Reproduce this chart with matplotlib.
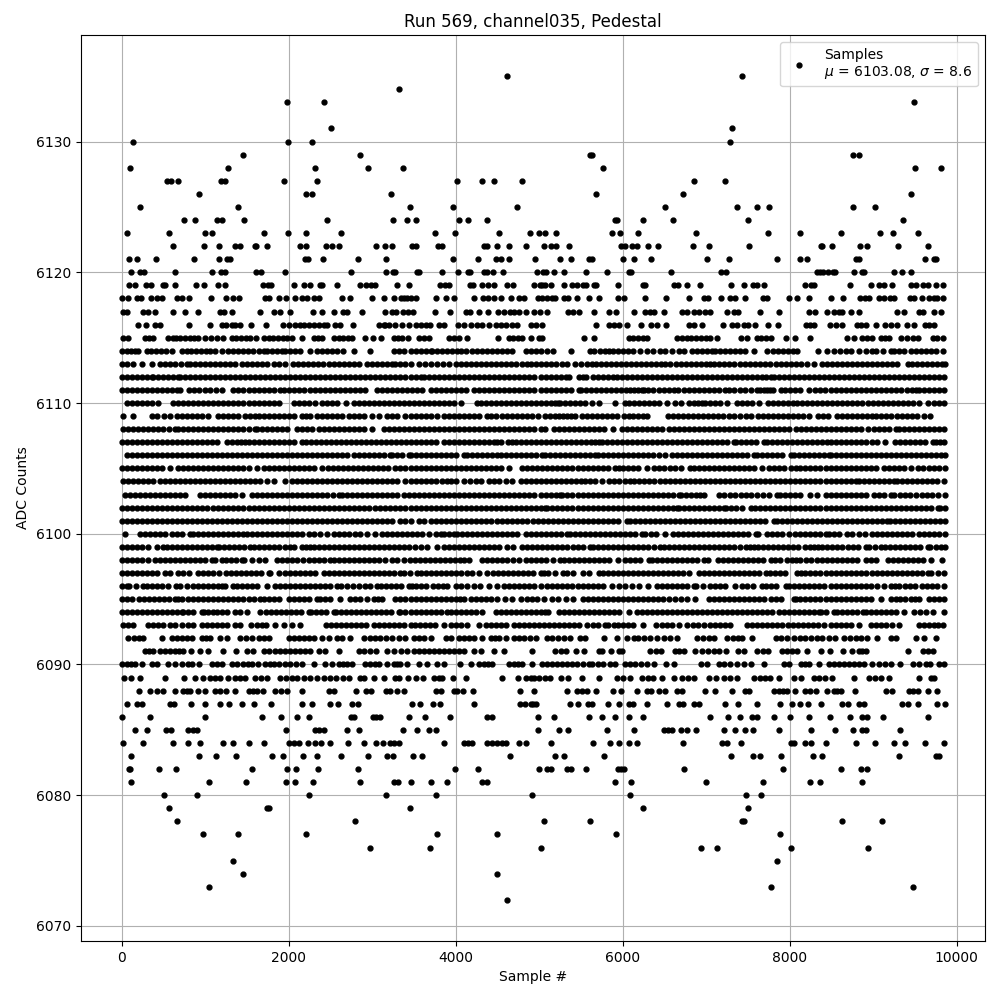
import matplotlib
matplotlib.use("Agg")
import matplotlib.pyplot as plt

# sample numbers, one list per ADC level
row_6135 = [4616, 7428]
row_6134 = [3320]
row_6133 = [1976, 2420, 9492]
row_6131 = [2504, 7308]
row_6130 = [140, 1988, 2276, 7284]
row_6129 = [1460, 2852, 5604, 5628, 8760, 8832]
row_6128 = [104, 1280, 2312, 2948, 3368, 5760, 9504, 9816]
row_6127 = [548, 596, 680, 1196, 1244, 1940, 2336, 4016, 4316, 4460, 4796, 6852, 7224]
row_6126 = [932, 2204, 2276, 3224, 5676, 6720, 9456]
row_6125 = [224, 1400, 3452, 3968, 4736, 6504, 7368, 7608, 7752, 8760, 9024]
row_6124 = [752, 884, 1148, 1208, 1472, 2456, 3248, 3416, 3524, 4040, 4148, 4376, 5912, 5932, 6240, 6600, 7500, 9360]
row_6123 = [68, 572, 1004, 1088, 1700, 1988, 2204, 2624, 3752, 3992, 4520, 4892, 5004, 5076, 5208, 5868, 5964, 6180, 6876, 7740, 8124, 8616, 9084, 9240, 9540]
row_6122 = [620, 992, 1172, 1364, 1424, 1592, 1604, 1736, 2132, 2204, 2444, 2516, 2600, 3044, 3152, 3236, 3476, 3524, 3788, 3836, 4340, 4380, 4496, 4640, 4844, 5064, 5148, 5208, 5364, 5976, 6024, 6108, 6168, 6300, 6420, 6840, 7032, 7512, 8376, 8392, 8508, 8844, 8928, 9300, 9660]
row_6121 = [92, 188, 416, 872, 1172, 1260, 1300, 2192, 2228, 2408, 2828, 3164, 3968, 4268, 4484, 4544, 4640, 4952, 5256, 5388, 5592, 5628, 6000, 6132, 6336, 7008, 7272, 7848, 8124, 8204, 8792, 8832, 9624, 9732, 9756]
row_6120 = [116, 224, 272, 644, 1088, 1196, 1244, 1604, 1664, 1952, 2744, 3164, 3248, 3272, 3536, 3560, 3836, 4028, 4148, 4172, 4340, 4380, 4448, 4568, 4976, 5052, 5088, 5184, 5304, 5556, 5808, 6072, 6104, 6576, 7176, 7236, 8328, 8364, 8400, 8460, 8520, 8544, 8772, 8868, 8892, 9252, 9352, 9456]
row_6119 = [92, 164, 296, 356, 500, 524, 644, 892, 992, 1160, 1244, 1688, 1748, 1784, 2060, 2180, 2252, 2372, 2396, 2576, 2852, 2924, 2984, 3032, 3296, 3440, 3812, 3872, 3920, 4172, 4208, 4316, 4388, 4460, 4616, 4688, 4940, 5012, 5040, 5076, 5148, 5304, 5400, 5448, 5520, 5556, 5652, 5676, 5940, 6240, 6264, 6612, 6660, 6768, 6924, 7296, 7452, 7560, 7604, 7692, 8184, 8256, 8292, 8724, 8976, 9072, 9132, 9228, 9456, 9516, 9600, 9660, 9756, 9840]
row_6118 = [8, 80, 188, 236, 356, 420, 488, 668, 728, 812, 1076, 1256, 1340, 1412, 1712, 1760, 1880, 1964, 2072, 2156, 2216, 2300, 2360, 2636, 2732, 2996, 3140, 3260, 3348, 3380, 3420, 3460, 3520, 3764, 3884, 3980, 4220, 4328, 4388, 4460, 4544, 4664, 4760, 4820, 4988, 5040, 5100, 5160, 5192, 5304, 5352, 5448, 5592, 5712, 5940, 6012, 6264, 6516, 6792, 6972, 7020, 7176, 7284, 7344, 7464, 7680, 7724, 7992, 8092, 8232, 8496, 8644, 8844, 8900, 8952, 9072, 9130, 9200, 9252, 9444, 9492, 9588, 9672, 9730, 9770, 9840]
row_6117 = [20, 60, 260, 320, 400, 620, 760, 920, 1180, 1228, 1320, 1652, 1820, 1892, 2020, 2288, 2396, 2540, 2648, 2700, 2876, 3152, 3236, 3284, 3368, 3428, 3488, 3752, 3932, 4124, 4172, 4280, 4388, 4508, 4580, 4652, 4700, 4760, 4840, 4940, 5012, 5100, 5352, 5412, 5472, 5652, 5832, 5916, 6132, 6272, 6324, 6372, 6492, 6712, 6772, 6852, 6912, 6992, 7044, 7252, 7332, 7380, 7644, 7872, 8232, 8304, 8448, 8532, 8592, 8628, 8736, 8832, 9292, 9364, 9552, 9592, 9732, 9816]
row_6116 = [200, 292, 400, 460, 804, 1064, 1208, 1252, 1320, 1360, 1420, 1544, 1728, 1928, 2000, 2080, 2140, 2188, 2240, 2300, 2360, 2420, 2460, 2560, 2620, 2768, 3080, 3140, 3160, 3200, 3280, 3360, 3440, 3520, 3580, 3640, 3692, 3800, 3860, 4028, 4100, 4180, 4260, 4320, 4400, 4480, 4540, 4600, 4680, 4740, 4900, 4960, 5032, 5676, 5832, 5892, 5952, 6052, 6216, 6336, 6408, 6516, 6792, 6852, 6948, 7200, 7312, 7372, 7452, 7500, 7584, 7740, 7860, 8196, 8244, 8292, 8484, 8552, 8632, 8808, 8860, 8912, 9032, 9140, 9212, 9292, 9408, 9492, 9624, 9672, 9732]
row_6115 = [20, 80, 280, 330, 380, 560, 610, 655, 700, 760, 815, 870, 920, 1000, 1070, 1140, 1220, 1320, 1375, 1430, 1490, 1540, 1608, 1700, 1760, 1815, 1870, 1930, 1985, 2040, 2160, 2300, 2350, 2400, 2540, 2600, 2650, 2710, 2760, 2912, 3008, 3108, 3260, 3310, 3360, 3428, 3560, 3620, 3680, 3920, 3980, 4040, 4140, 4508, 4640, 4690, 4750, 4800, 4908, 5000, 5032, 5532, 5652, 6072, 6130, 6180, 6240, 6292, 6652, 6710, 6770, 6825, 6880, 6940, 7000, 7052, 7132, 7412, 7492, 7612, 7660, 7712, 7780, 7956, 8064, 8244, 8692, 8772, 8872, 8932, 8992, 9092, 9140, 9192, 9332, 9400, 9472, 9532, 9712, 9770, 9832]
row_6114 = [0, 60, 110, 160, 200, 300, 350, 410, 470, 530, 600, 720, 780, 830, 890, 950, 1010, 1060, 1120, 1200, 1280, 1340, 1400, 1450, 1510, 1570, 1640, 1700, 1740, 1800, 1860, 1920, 1960, 2020, 2080, 2140, 2252, 2340, 2400, 2460, 2520, 2580, 2648, 2780, 2980, 3260, 3320, 3380, 3460, 3520, 3580, 3640, 3700, 3720, 3780, 3840, 3900, 3960, 4020, 4070, 4130, 4200, 4260, 4320, 4380, 4440, 4500, 4560, 4620, 4680, 4840, 4900, 4960, 5020, 5090, 5172, 5380, 5604, 5660, 5730, 5792, 5832, 5890, 5950, 6010, 6070, 6130, 6212, 6292, 6370, 6452, 6512, 6590, 6672, 6732, 6832, 6890, 6950, 7010, 7072, 7112, 7170, 7230, 7290, 7350, 7410, 7470, 7572, 7732, 7800, 7860, 7920, 7980, 8040, 8092, 8340, 8452, 8532, 8600, 8672, 8740, 8832, 8910, 8992, 9032, 9120, 9212, 9252, 9310, 9372, 9452, 9510, 9570, 9630, 9690, 9750, 9832]
row_6113 = [0, 70, 140, 240, 360, 460, 520, 580, 640, 710, 780, 820, 880, 940, 1000, 1060, 1120, 1180, 1240, 1300, 1360, 1440, 1500, 1560, 1620, 1680, 1740, 1820, 1890, 1960, 2052, 2110, 2170, 2230, 2290, 2350, 2410, 2480, 2540, 2600, 2660, 2720, 2780, 2840, 2940, 3000, 3060, 3120, 3180, 3240, 3280, 3340, 3400, 3460, 3560, 3630, 3700, 3780, 3850, 3920, 4000, 4060, 4120, 4180, 4240, 4300, 4360, 4420, 4480, 4540, 4600, 4660, 4720, 4790, 4860, 4900, 4960, 5020, 5080, 5140, 5200, 5270, 5332, 5432, 5500, 5570, 5632, 5680, 5740, 5800, 5860, 5920, 5980, 6040, 6100, 6160, 6220, 6280, 6340, 6400, 6460, 6512, 6564, 6640, 6700, 6760, 6820, 6880, 6940, 7000, 7052, 7100, 7160, 7220, 7280, 7340, 7400, 7460, 7520, 7580, 7640, 7700, 7770, 7832, 7900, 7960, 8020, 8080, 8140, 8210, 8292, 8392, 8450, 8510, 8570, 8630, 8690, 8750, 8810, 8870, 8930, 8990, 9050, 9110, 9170, 9230, 9292, 9412, 9470, 9530, 9590, 9650, 9710, 9770, 9830, 9866]
row_6112 = [0, 60, 120, 180, 240, 300, 360, 380, 440, 500, 560, 620, 680, 700, 760, 820, 880, 940, 1000, 1060, 1120, 1180, 1240, 1300, 1360, 1420, 1480, 1540, 1600, 1660, 1720, 1780, 1840, 1900, 1960, 2020, 2080, 2140, 2200, 2260, 2320, 2380, 2440, 2500, 2560, 2620, 2680, 2740, 2800, 2860, 2920, 2980, 3040, 3100, 3160, 3220, 3280, 3340, 3400, 3460, 3520, 3580, 3620, 3680, 3740, 3800, 3860, 3920, 3980, 4040, 4100, 4160, 4220, 4280, 4340, 4400, 4460, 4520, 4580, 4640, 4700, 4760, 4820, 4880, 4940, 5020, 5080, 5140, 5200, 5260, 5320, 5364, 5472, 5520, 5564, 5644, 5710, 5770, 5830, 5890, 5932, 5992, 6050, 6110, 6170, 6230, 6290, 6350, 6410, 6470, 6530, 6590, 6650, 6710, 6770, 6830, 6890, 6950, 7010, 7070, 7130, 7190, 7250, 7310, 7370, 7430, 7490, 7550, 7610, 7670, 7720, 7772, 7812, 7870, 7930, 7990, 8050, 8110, 8170, 8230, 8290, 8350, 8410, 8470, 8530, 8590, 8650, 8710, 8770, 8830, 8890, 8950, 9010, 9070, 9130, 9190, 9250, 9310, 9370, 9430, 9490, 9550, 9610, 9670, 9730, 9790, 9850]
row_6111 = [0, 60, 120, 180, 240, 300, 360, 420, 480, 540, 600, 660, 700, 810, 870, 930, 1000, 1060, 1130, 1200, 1340, 1400, 1460, 1520, 1580, 1640, 1700, 1760, 1820, 1900, 1940, 2000, 2060, 2120, 2180, 2260, 2320, 2380, 2440, 2500, 2560, 2620, 2680, 2740, 2800, 2860, 2920, 3060, 3120, 3180, 3240, 3300, 3360, 3420, 3480, 3540, 3600, 3700, 3760, 3820, 3880, 3940, 4000, 4060, 4120, 4220, 4280, 4340, 4400, 4460, 4520, 4580, 4640, 4700, 4760, 4820, 4880, 4940, 5020, 5080, 5140, 5200, 5260, 5320, 5380, 5472, 5500, 5560, 5620, 5680, 5740, 5800, 5860, 5920, 5980, 6040, 6092, 6140, 6190, 6232, 6252, 6310, 6370, 6430, 6490, 6550, 6612, 6664, 6732, 6792, 6850, 6910, 6970, 7030, 7090, 7150, 7232, 7280, 7340, 7400, 7460, 7532, 7604, 7650, 7692, 7724, 7770, 7804, 7892, 7950, 8010, 8070, 8130, 8232, 8300, 8360, 8420, 8492, 8560, 8620, 8680, 8740, 8800, 8860, 8920, 8980, 9040, 9100, 9160, 9220, 9280, 9340, 9400, 9460, 9512, 9552, 9610, 9670, 9730, 9790, 9852]
row_6110 = [60, 120, 180, 240, 300, 360, 440, 620, 680, 740, 800, 860, 920, 980, 1040, 1100, 1160, 1220, 1280, 1340, 1400, 1460, 1520, 1580, 1640, 1700, 1760, 1820, 1880, 2060, 2120, 2180, 2240, 2320, 2400, 2460, 2520, 2580, 2692, 2780, 2840, 2900, 2960, 3020, 3080, 3140, 3200, 3260, 3320, 3380, 3440, 3500, 3560, 3620, 3680, 3740, 3800, 3860, 3920, 3980, 4060, 4260, 4300, 4360, 4420, 4480, 4540, 4600, 4660, 4720, 4780, 4840, 4900, 4960, 5020, 5080, 5140, 5190, 5232, 5252, 5310, 5370, 5430, 5490, 5550, 5632, 5712, 5912, 6024, 6080, 6140, 6200, 6260, 6320, 6380, 6440, 6532, 6632, 6700, 6792, 6852, 6900, 6952, 6992, 7050, 7110, 7170, 7252, 7372, 7430, 7490, 7550, 7632, 7740, 7800, 7860, 7920, 7980, 8040, 8092, 8152, 8212, 8270, 8330, 8390, 8450, 8510, 8570, 8630, 8690, 8750, 8810, 8872, 8940, 9000, 9060, 9120, 9180, 9240, 9300, 9360, 9420, 9480, 9552, 9652, 9732, 9790, 9850]
row_6109 = [20, 140, 360, 430, 510, 580, 660, 720, 780, 840, 900, 960, 1040, 1160, 1220, 1280, 1340, 1400, 1480, 1540, 1600, 1640, 1700, 1760, 1820, 1880, 1940, 2000, 2060, 2160, 2212, 2260, 2340, 2400, 2460, 2520, 2580, 2640, 2720, 2780, 2840, 2900, 3000, 3080, 3180, 3240, 3300, 3400, 3460, 3520, 3580, 3640, 3700, 3772, 3860, 3920, 3980, 4040, 4100, 4160, 4220, 4280, 4380, 4420, 4480, 4550, 4620, 4680, 4740, 4800, 4860, 4920, 4992, 5072, 5130, 5190, 5240, 5292, 5332, 5380, 5432, 5512, 5570, 5630, 5690, 5750, 5810, 5870, 5930, 6012, 6072, 6130, 6190, 6250, 6292, 6540, 6600, 6660, 6720, 6780, 6840, 6900, 6960, 7020, 7080, 7140, 7200, 7272, 7340, 7400, 7472, 7532, 7620, 7680, 7740, 7800, 7860, 7920, 7980, 8040, 8100, 8160, 8232, 8340, 8400, 8460, 8572, 8630, 8690, 8750, 8810, 8870, 8930, 8990, 9040, 9092, 9152, 9212, 9292, 9350, 9410, 9470, 9530, 9612, 9680]
row_6108 = [20, 80, 140, 200, 260, 320, 380, 440, 500, 570, 640, 680, 740, 800, 860, 920, 980, 1040, 1100, 1160, 1220, 1280, 1340, 1400, 1460, 1530, 1600, 1620, 1680, 1740, 1800, 1860, 1920, 1980, 2100, 2160, 2220, 2280, 2360, 2420, 2480, 2540, 2600, 2660, 2720, 2780, 2840, 2900, 3000, 3140, 3200, 3260, 3320, 3380, 3440, 3500, 3560, 3620, 3680, 3740, 3800, 3860, 3920, 3980, 4040, 4100, 4160, 4220, 4280, 4340, 4400, 4460, 4520, 4580, 4640, 4700, 4760, 4820, 4880, 4940, 5020, 5072, 5180, 5240, 5300, 5360, 5420, 5480, 5540, 5600, 5660, 5720, 5780, 5884, 5992, 6050, 6110, 6170, 6230, 6290, 6350, 6410, 6472, 6552, 6610, 6672, 6732, 6790, 6850, 6910, 6970, 7030, 7090, 7150, 7210, 7270, 7330, 7390, 7450, 7510, 7570, 7630, 7690, 7750, 7810, 7870, 7932, 7992, 8080, 8140, 8200, 8260, 8320, 8380, 8440, 8500, 8560, 8620, 8680, 8740, 8800, 8860, 8940, 9012, 9070, 9130, 9190, 9272, 9312, 9370, 9430, 9490, 9550, 9610, 9670, 9730, 9792, 9852]
row_6107 = [0, 60, 120, 180, 240, 300, 360, 420, 480, 540, 600, 660, 720, 780, 840, 900, 960, 1020, 1080, 1140, 1260, 1320, 1380, 1430, 1480, 1520, 1580, 1640, 1700, 1760, 1820, 1880, 1940, 2000, 2060, 2160, 2212, 2270, 2332, 2388, 2450, 2510, 2570, 2630, 2690, 2750, 2810, 2870, 2930, 2990, 3050, 3110, 3170, 3230, 3290, 3350, 3410, 3470, 3530, 3590, 3650, 3710, 3760, 3860, 3920, 3980, 4040, 4100, 4160, 4220, 4280, 4340, 4400, 4460, 4500, 4540, 4628, 4670, 4720, 4780, 4840, 4900, 4960, 5020, 5080, 5140, 5200, 5260, 5320, 5380, 5440, 5500, 5560, 5620, 5670, 5712, 5752, 5810, 5870, 5930, 5990, 6050, 6110, 6170, 6230, 6290, 6350, 6410, 6470, 6530, 6590, 6650, 6710, 6770, 6830, 6890, 6950, 7010, 7070, 7130, 7190, 7250, 7332, 7364, 7420, 7480, 7540, 7600, 7692, 7732, 7790, 7850, 7910, 7970, 8030, 8090, 8150, 8210, 8270, 8330, 8390, 8450, 8500, 8552, 8610, 8670, 8730, 8790, 8850, 8910, 8992, 9044, 9140, 9260, 9320, 9380, 9440, 9500, 9560, 9620, 9712, 9752, 9800, 9852]
row_6106 = [60, 120, 180, 240, 300, 360, 420, 480, 540, 600, 660, 720, 780, 840, 900, 960, 1020, 1080, 1140, 1200, 1260, 1320, 1380, 1440, 1500, 1560, 1620, 1680, 1740, 1800, 1860, 1920, 1980, 2040, 2100, 2160, 2220, 2280, 2340, 2400, 2460, 2520, 2580, 2640, 2700, 2780, 2840, 2900, 2960, 3020, 3080, 3140, 3220, 3240, 3300, 3360, 3440, 3460, 3520, 3580, 3640, 3700, 3760, 3820, 3880, 3940, 4000, 4100, 4140, 4200, 4260, 4320, 4380, 4440, 4500, 4540, 4600, 4660, 4720, 4780, 4840, 4900, 4960, 5032, 5072, 5130, 5190, 5250, 5310, 5370, 5430, 5490, 5550, 5610, 5672, 5704, 5770, 5830, 5890, 5950, 6010, 6070, 6130, 6190, 6250, 6310, 6370, 6432, 6504, 6592, 6650, 6710, 6770, 6830, 6890, 6950, 7010, 7070, 7130, 7190, 7250, 7310, 7370, 7430, 7490, 7572, 7612, 7670, 7730, 7790, 7850, 7910, 8012, 8052, 8110, 8170, 8230, 8290, 8350, 8410, 8472, 8492, 8550, 8610, 8670, 8730, 8790, 8850, 8910, 8970, 9030, 9090, 9150, 9210, 9270, 9330, 9390, 9450, 9510, 9570, 9630, 9690, 9750, 9810, 9860]
row_6105 = [0, 60, 120, 180, 240, 300, 360, 420, 480, 580, 680, 740, 800, 860, 920, 980, 1040, 1100, 1160, 1220, 1280, 1340, 1400, 1460, 1520, 1620, 1700, 1760, 1820, 1880, 1940, 2000, 2060, 2120, 2180, 2240, 2300, 2400, 2472, 2530, 2590, 2650, 2710, 2770, 2830, 2890, 2950, 3010, 3070, 3130, 3190, 3280, 3340, 3400, 3460, 3520, 3580, 3640, 3700, 3760, 3820, 3880, 3940, 4000, 4060, 4120, 4180, 4240, 4300, 4360, 4420, 4480, 4540, 4640, 4800, 4860, 4920, 4980, 5040, 5100, 5160, 5220, 5280, 5340, 5400, 5460, 5520, 5580, 5640, 5700, 5760, 5820, 5912, 5952, 6010, 6070, 6130, 6190, 6292, 6372, 6432, 6500, 6572, 6632, 6700, 6812, 6852, 6912, 6970, 7030, 7090, 7150, 7210, 7270, 7330, 7390, 7450, 7510, 7570, 7672, 7752, 7810, 7870, 7930, 8012, 8072, 8130, 8190, 8250, 8310, 8370, 8430, 8490, 8550, 8610, 8670, 8730, 8790, 8850, 8910, 8970, 9030, 9132, 9192, 9250, 9310, 9370, 9452, 9532, 9600, 9672, 9732, 9790, 9860]
row_6104 = [20, 80, 140, 200, 260, 320, 380, 460, 520, 580, 640, 700, 760, 820, 880, 940, 1000, 1060, 1120, 1180, 1240, 1300, 1360, 1420, 1480, 1540, 1600, 1660, 1740, 1820, 1960, 2040, 2100, 2160, 2220, 2280, 2340, 2400, 2460, 2520, 2580, 2640, 2700, 2760, 2820, 2880, 2940, 3000, 3060, 3120, 3180, 3240, 3300, 3400, 3460, 3520, 3580, 3640, 3700, 3770, 3840, 3900, 3950, 4000, 4100, 4170, 4240, 4300, 4400, 4460, 4520, 4600, 4680, 4780, 4840, 4900, 4960, 5020, 5080, 5140, 5200, 5260, 5320, 5380, 5440, 5500, 5552, 5604, 5672, 5750, 5832, 5892, 5952, 6032, 6090, 6132, 6192, 6252, 6320, 6380, 6452, 6512, 6570, 6632, 6692, 6750, 6810, 6870, 6930, 6990, 7050, 7110, 7170, 7230, 7290, 7350, 7410, 7470, 7530, 7590, 7650, 7710, 7770, 7830, 7890, 7950, 8010, 8070, 8130, 8190, 8250, 8310, 8370, 8430, 8490, 8550, 8610, 8670, 8730, 8792, 8832, 8890, 8950, 9010, 9070, 9130, 9190, 9252, 9292, 9350, 9410, 9470, 9530, 9590, 9650, 9710, 9770, 9844]
row_6103 = [40, 100, 160, 220, 280, 340, 400, 460, 520, 580, 640, 700, 760, 940, 1000, 1060, 1120, 1180, 1240, 1300, 1360, 1440, 1560, 1620, 1680, 1740, 1800, 1860, 1920, 1980, 2040, 2100, 2160, 2220, 2280, 2340, 2400, 2460, 2530, 2600, 2640, 2700, 2760, 2820, 2880, 2940, 3000, 3060, 3120, 3180, 3240, 3300, 3380, 3440, 3500, 3560, 3620, 3680, 3740, 3800, 3860, 3920, 3980, 4040, 4100, 4160, 4220, 4280, 4340, 4400, 4460, 4520, 4580, 4640, 4700, 4760, 4820, 4880, 4940, 5020, 5080, 5140, 5200, 5252, 5280, 5340, 5400, 5460, 5520, 5580, 5640, 5700, 5760, 5820, 5880, 5940, 6000, 6060, 6120, 6180, 6240, 6300, 6360, 6420, 6480, 6540, 6600, 6672, 6700, 6760, 6820, 6880, 6932, 6980, 7152, 7220, 7290, 7350, 7420, 7472, 7540, 7610, 7680, 7750, 7844, 7884, 7950, 8010, 8070, 8130, 8244, 8324, 8432, 8490, 8550, 8610, 8670, 8730, 8790, 8850, 8912, 9012, 9070, 9130, 9212, 9252, 9320, 9380, 9440, 9512, 9580, 9650, 9710, 9780, 9860]
row_6102 = [0, 60, 120, 180, 240, 300, 360, 420, 480, 540, 600, 660, 720, 780, 840, 900, 960, 1020, 1100, 1160, 1220, 1280, 1340, 1400, 1460, 1520, 1580, 1640, 1700, 1760, 1820, 1880, 1940, 2000, 2060, 2120, 2180, 2240, 2300, 2360, 2420, 2480, 2540, 2600, 2660, 2720, 2780, 2840, 2900, 2960, 3040, 3100, 3160, 3220, 3280, 3340, 3400, 3460, 3520, 3580, 3640, 3700, 3760, 3820, 3880, 3940, 4000, 4060, 4120, 4180, 4240, 4300, 4360, 4420, 4480, 4540, 4600, 4660, 4720, 4780, 4840, 4900, 4960, 5020, 5072, 5100, 5160, 5220, 5280, 5340, 5400, 5460, 5520, 5580, 5640, 5700, 5760, 5820, 5880, 5940, 6000, 6060, 6120, 6180, 6240, 6300, 6360, 6420, 6480, 6540, 6600, 6652, 6680, 6740, 6800, 6860, 6920, 6980, 7040, 7100, 7160, 7212, 7244, 7300, 7360, 7432, 7532, 7590, 7650, 7710, 7770, 7830, 7890, 7950, 8010, 8070, 8130, 8190, 8250, 8310, 8370, 8430, 8490, 8550, 8610, 8670, 8730, 8790, 8850, 8910, 8970, 9030, 9090, 9150, 9210, 9270, 9330, 9390, 9450, 9510, 9570, 9630, 9690, 9772, 9804, 9860]
row_6101 = [0, 60, 120, 180, 240, 300, 360, 420, 480, 540, 600, 660, 720, 780, 840, 900, 960, 1020, 1080, 1140, 1200, 1260, 1320, 1380, 1440, 1500, 1560, 1620, 1680, 1740, 1800, 1860, 1920, 1980, 2040, 2100, 2160, 2220, 2280, 2340, 2400, 2460, 2520, 2580, 2640, 2700, 2760, 2820, 2880, 2940, 3000, 3060, 3120, 3180, 3240, 3340, 3400, 3460, 3560, 3620, 3700, 3760, 3820, 3880, 3940, 4000, 4060, 4120, 4180, 4240, 4300, 4360, 4420, 4500, 4560, 4620, 4680, 4740, 4800, 4860, 4932, 4992, 5050, 5110, 5170, 5230, 5290, 5350, 5410, 5470, 5530, 5590, 5650, 5710, 5770, 5830, 5890, 5950, 6052, 6084, 6150, 6210, 6270, 6330, 6390, 6450, 6510, 6570, 6630, 6690, 6750, 6810, 6870, 6930, 6990, 7050, 7110, 7170, 7230, 7290, 7350, 7410, 7470, 7530, 7590, 7650, 7710, 7812, 7852, 7910, 7970, 8030, 8090, 8150, 8210, 8270, 8330, 8390, 8450, 8510, 8570, 8630, 8690, 8750, 8810, 8870, 8930, 8990, 9050, 9110, 9172, 9204, 9260, 9320, 9380, 9440, 9500, 9560, 9620, 9680, 9740, 9800, 9860]
row_6100 = [40, 220, 280, 340, 400, 460, 520, 600, 660, 720, 820, 860, 920, 980, 1040, 1100, 1160, 1220, 1280, 1340, 1400, 1460, 1500, 1560, 1620, 1680, 1740, 1800, 1860, 1920, 1980, 2040, 2100, 2160, 2240, 2300, 2380, 2460, 2540, 2600, 2660, 2720, 2790, 2860, 2940, 3030, 3120, 3180, 3240, 3300, 3360, 3420, 3480, 3540, 3600, 3680, 3760, 3820, 3860, 3920, 3980, 4020, 4080, 4140, 4200, 4260, 4320, 4380, 4440, 4500, 4560, 4620, 4680, 4740, 4840, 4900, 4960, 5020, 5080, 5140, 5200, 5260, 5332, 5372, 5430, 5490, 5550, 5610, 5670, 5730, 5790, 5850, 5910, 5970, 6030, 6090, 6150, 6232, 6272, 6340, 6400, 6512, 6604, 6660, 6720, 6780, 6840, 6900, 6960, 7020, 7080, 7140, 7200, 7260, 7320, 7380, 7440, 7500, 7592, 7624, 7732, 7792, 7850, 7910, 7992, 8064, 8120, 8180, 8240, 8300, 8360, 8432, 8472, 8530, 8590, 8692, 8752, 8832, 8900, 8992, 9052, 9110, 9170, 9230, 9290, 9350, 9410, 9470, 9552, 9612, 9670, 9730, 9790, 9866]
row_6099 = [0, 60, 120, 180, 240, 320, 420, 500, 540, 600, 660, 720, 780, 840, 900, 960, 1020, 1080, 1140, 1172, 1230, 1290, 1350, 1410, 1470, 1540, 1580, 1640, 1700, 1760, 1820, 1880, 1960, 2012, 2070, 2160, 2212, 2260, 2300, 2360, 2420, 2480, 2540, 2600, 2660, 2720, 2780, 2840, 2900, 2960, 3020, 3080, 3140, 3200, 3260, 3320, 3380, 3440, 3510, 3580, 3660, 3780, 3860, 3920, 3980, 4040, 4100, 4160, 4220, 4280, 4340, 4400, 4460, 4520, 4620, 4692, 4800, 4860, 4920, 4980, 5040, 5100, 5160, 5220, 5280, 5340, 5412, 5460, 5530, 5612, 5644, 5700, 5760, 5820, 5880, 5940, 6000, 6060, 6120, 6180, 6240, 6300, 6380, 6444, 6500, 6560, 6620, 6680, 6740, 6800, 6860, 6920, 6980, 7040, 7100, 7160, 7220, 7280, 7340, 7400, 7472, 7524, 7570, 7620, 7680, 7740, 7800, 7860, 7920, 7980, 8040, 8100, 8184, 8240, 8290, 8340, 8392, 8450, 8510, 8570, 8632, 8700, 8760, 8820, 8912, 8952, 9020, 9092, 9140, 9204, 9260, 9320, 9380, 9440, 9500, 9560, 9652, 9684, 9750, 9810, 9860]
row_6098 = [0, 60, 120, 180, 240, 320, 400, 460, 520, 580, 640, 700, 760, 820, 880, 940, 1000, 1080, 1120, 1200, 1252, 1310, 1370, 1440, 1468, 1560, 1640, 1720, 1860, 1920, 1980, 2040, 2100, 2168, 2240, 2300, 2360, 2430, 2500, 2540, 2600, 2660, 2720, 2780, 2840, 2900, 2960, 3020, 3080, 3160, 3240, 3300, 3388, 3450, 3510, 3570, 3630, 3690, 3750, 3810, 3870, 3930, 3990, 4050, 4100, 4160, 4320, 4380, 4440, 4500, 4560, 4620, 4690, 4760, 4840, 4900, 4960, 5020, 5084, 5170, 5252, 5304, 5360, 5420, 5480, 5540, 5600, 5660, 5720, 5780, 5840, 5940, 6024, 6090, 6150, 6210, 6312, 6352, 6410, 6470, 6530, 6590, 6650, 6710, 6770, 6830, 6890, 6972, 7020, 7140, 7200, 7260, 7320, 7380, 7440, 7500, 7560, 7620, 7680, 7780, 7824, 7890, 7972, 8032, 8080, 8124, 8192, 8260, 8332, 8392, 8450, 8510, 8570, 8630, 8690, 8750, 8812, 8912, 8970, 9032, 9180, 9240, 9300, 9360, 9420, 9480, 9540, 9600, 9692, 9820]
row_6097 = [0, 60, 120, 180, 240, 300, 360, 420, 520, 580, 680, 732, 812, 920, 980, 1040, 1100, 1172, 1252, 1310, 1370, 1430, 1490, 1550, 1610, 1670, 1760, 1780, 1880, 1960, 2020, 2080, 2140, 2200, 2260, 2320, 2420, 2480, 2540, 2600, 2660, 2720, 2780, 2840, 2900, 2960, 3020, 3080, 3140, 3200, 3260, 3340, 3388, 3450, 3540, 3580, 3640, 3700, 3760, 3820, 3880, 3940, 4000, 4060, 4140, 4200, 4280, 4372, 4452, 4510, 4570, 4630, 4690, 4750, 4810, 4870, 4930, 5020, 5060, 5112, 5192, 5284, 5340, 5412, 5524, 5600, 5712, 5764, 5820, 5880, 5940, 6000, 6060, 6120, 6180, 6240, 6300, 6360, 6420, 6480, 6540, 6600, 6660, 6720, 6792, 6912, 6970, 7030, 7090, 7150, 7210, 7270, 7330, 7390, 7450, 7510, 7570, 7630, 7712, 7764, 7830, 7890, 7950, 8084, 8132, 8190, 8250, 8310, 8370, 8430, 8490, 8550, 8610, 8670, 8730, 8790, 8850, 8910, 8992, 9052, 9110, 9170, 9230, 9290, 9350, 9410, 9470, 9530, 9590, 9652, 9692, 9780, 9844]
row_6096 = [0, 60, 92, 170, 252, 308, 370, 430, 490, 560, 652, 700, 788, 850, 910, 970, 1030, 1090, 1150, 1200, 1240, 1340, 1380, 1440, 1500, 1560, 1620, 1740, 1840, 1900, 1960, 2020, 2080, 2140, 2200, 2260, 2320, 2380, 2440, 2500, 2580, 2628, 2700, 2772, 2840, 2920, 2972, 3060, 3112, 3170, 3230, 3290, 3350, 3440, 3472, 3530, 3590, 3650, 3732, 3788, 3850, 3900, 4000, 4060, 4132, 4220, 4292, 4400, 4500, 4580, 4640, 4700, 4760, 4820, 4880, 4940, 5020, 5090, 5160, 5220, 5272, 5332, 5400, 5460, 5520, 5580, 5640, 5700, 5760, 5872, 5952, 6030, 6112, 6192, 6300, 6412, 6470, 6530, 6590, 6650, 6710, 6770, 6852, 6880, 6960, 7052, 7112, 7170, 7232, 7352, 7432, 7492, 7560, 7672, 7712, 7780, 7840, 7952, 7992, 8050, 8110, 8170, 8230, 8290, 8350, 8410, 8492, 8552, 8610, 8670, 8730, 8790, 8850, 8910, 8970, 9052, 9132, 9212, 9260, 9312, 9380, 9440, 9500, 9580, 9640, 9700, 9760, 9844]
row_6095 = [0, 60, 120, 212, 270, 330, 390, 450, 510, 570, 640, 680, 720, 800, 860, 920, 980, 1040, 1100, 1160, 1220, 1280, 1340, 1400, 1460, 1520, 1580, 1660, 1700, 1760, 1820, 1880, 2000, 2060, 2120, 2180, 2240, 2340, 2380, 2440, 2500, 2620, 2740, 2800, 2860, 2940, 3020, 3070, 3120, 3280, 3340, 3400, 3460, 3520, 3580, 3640, 3700, 3760, 3820, 3880, 3940, 4000, 4050, 4100, 4180, 4240, 4300, 4360, 4420, 4500, 4590, 4680, 4780, 4850, 4920, 4980, 5060, 5152, 5232, 5320, 5412, 5524, 5580, 5640, 5700, 5760, 5820, 5880, 5940, 6000, 6060, 6120, 6180, 6240, 6300, 6360, 6420, 6480, 6552, 6632, 6700, 6770, 6872, 7032, 7100, 7152, 7210, 7270, 7330, 7390, 7450, 7510, 7570, 7630, 7690, 7772, 7832, 7900, 8052, 8072, 8130, 8190, 8250, 8310, 8370, 8430, 8490, 8550, 8610, 8670, 8730, 8790, 8850, 8920, 8980, 9092, 9212, 9270, 9320, 9380, 9452, 9500, 9552, 9672, 9730, 9790, 9852]
row_6094 = [0, 60, 120, 180, 240, 300, 360, 420, 480, 540, 600, 660, 720, 740, 800, 860, 960, 988, 1040, 1100, 1140, 1200, 1260, 1360, 1420, 1500, 1652, 1728, 1790, 1850, 1910, 1970, 2030, 2090, 2150, 2240, 2268, 2330, 2390, 2450, 2540, 2572, 2630, 2690, 2750, 2810, 2870, 2930, 2990, 3050, 3110, 3170, 3230, 3320, 3340, 3400, 3460, 3520, 3580, 3640, 3700, 3760, 3820, 3900, 3940, 4000, 4060, 4120, 4180, 4240, 4320, 4480, 4540, 4600, 4660, 4720, 4780, 4840, 4900, 4960, 5020, 5070, 5112, 5244, 5300, 5360, 5420, 5480, 5540, 5600, 5660, 5720, 5780, 5840, 5900, 5960, 6072, 6172, 6230, 6290, 6350, 6410, 6470, 6530, 6590, 6650, 6710, 6770, 6830, 6890, 6950, 7010, 7070, 7130, 7190, 7250, 7310, 7370, 7430, 7490, 7550, 7610, 7670, 7730, 7790, 7872, 7932, 7990, 8050, 8110, 8170, 8230, 8290, 8352, 8372, 8430, 8532, 8572, 8630, 8690, 8750, 8810, 8884, 8912, 8970, 9030, 9090, 9150, 9210, 9270, 9372, 9492, 9560, 9630, 9712, 9852]
row_6093 = [20, 80, 140, 320, 380, 440, 500, 580, 640, 720, 800, 860, 960, 1020, 1080, 1140, 1200, 1260, 1360, 1420, 1548, 1620, 1680, 1732, 1840, 1940, 2040, 2140, 2452, 2510, 2570, 2630, 2690, 2750, 2810, 2870, 2932, 3020, 3080, 3140, 3200, 3260, 3320, 3380, 3460, 3508, 3570, 3630, 3690, 3750, 3860, 3940, 4000, 4060, 4140, 4280, 4360, 4420, 4480, 4540, 4600, 4700, 4760, 4820, 4880, 4940, 5000, 5060, 5120, 5180, 5240, 5300, 5360, 5420, 5472, 5572, 5640, 5700, 5792, 5820, 5892, 5950, 6010, 6070, 6130, 6244, 6404, 6470, 6530, 6590, 6672, 6772, 6840, 6900, 6980, 7044, 7110, 7170, 7230, 7292, 7492, 7550, 7610, 7670, 7730, 7790, 7850, 7912, 7980, 8040, 8100, 8160, 8220, 8280, 8340, 8412, 8492, 8550, 8610, 8670, 8730, 8832, 8972, 9032, 9092, 9160, 9230, 9312, 9552, 9610, 9670, 9730, 9780, 9832]
row_6092 = [80, 150, 210, 260, 480, 600, 660, 720, 780, 840, 960, 1010, 1060, 1180, 1260, 1420, 1490, 1560, 1640, 1700, 1760, 2000, 2060, 2120, 2180, 2240, 2300, 2400, 2480, 2580, 2640, 2740, 2900, 2970, 3040, 3100, 3170, 3240, 3320, 3400, 3500, 3560, 3620, 3700, 3880, 3940, 4040, 4100, 4160, 4220, 4320, 4420, 4470, 4520, 4600, 4700, 4760, 4820, 4890, 4960, 5092, 5160, 5230, 5300, 5372, 5492, 5552, 5772, 5932, 6052, 6132, 6190, 6252, 6332, 6410, 6492, 6572, 6652, 6892, 6960, 7030, 7092, 7252, 7320, 7380, 7432, 7552, 7832, 7900, 7972, 8052, 8120, 8190, 8260, 8332, 8392, 8470, 8540, 8652, 8720, 8790, 8860, 8930, 9052, 9212, 9272, 9512, 9612, 9752]
row_6091 = [280, 330, 380, 460, 520, 580, 640, 690, 740, 828, 940, 1040, 1212, 1372, 1500, 1572, 1700, 1760, 1840, 1900, 1960, 2020, 2080, 2140, 2200, 2260, 2360, 2440, 2600, 2840, 2900, 2972, 3052, 3180, 3260, 3352, 3420, 3500, 3560, 3620, 3680, 3740, 3800, 3860, 3920, 3980, 4040, 4100, 4220, 4300, 4460, 4580, 4920, 5192, 5260, 5324, 5436, 5532, 5712, 5752, 5856, 5952, 5992, 6332, 6400, 6460, 6632, 6672, 6732, 6864, 6952, 7020, 7092, 7152, 7236, 7380, 7452, 7612, 7680, 7740, 7912, 7970, 8030, 8092, 8208, 8376, 8484, 8640, 8752, 8832, 8870, 8912, 9420, 9592, 9652, 9712]
row_6090 = [0, 60, 110, 160, 240, 360, 420, 552, 640, 720, 800, 840, 932, 1080, 1140, 1200, 1320, 1380, 1460, 1510, 1560, 1628, 1720, 1780, 1830, 1880, 1960, 2020, 2090, 2160, 2300, 2432, 2520, 2600, 2650, 2700, 2760, 2920, 2970, 3030, 3080, 3180, 3260, 3300, 3340, 3420, 3560, 3660, 3780, 3860, 4056, 4180, 4280, 4340, 4390, 4440, 4640, 4700, 4750, 4800, 4912, 5032, 5090, 5150, 5210, 5270, 5330, 5390, 5450, 5520, 5592, 5632, 5700, 5770, 5852, 5904, 6032, 6090, 6150, 6220, 6290, 6372, 6524, 6620, 6940, 7012, 7152, 7220, 7292, 7372, 7450, 7532, 7692, 7932, 7992, 8132, 8180, 8232, 8352, 8472, 8530, 8590, 8650, 8710, 8770, 8830, 8890, 8992, 9072, 9140, 9212, 9324, 9472, 9550, 9632, 9680, 9792, 9852]
row_6089 = [28, 116, 224, 524, 752, 884, 980, 1060, 1120, 1180, 1280, 1360, 1420, 1480, 1600, 1670, 1740, 1900, 1970, 2040, 2100, 2180, 2260, 2340, 2420, 2500, 2570, 2650, 2720, 2860, 2900, 3020, 3140, 3280, 3320, 3428, 3520, 3612, 3740, 3800, 3840, 3968, 4124, 4556, 4748, 4840, 4900, 4940, 5000, 5070, 5132, 5260, 5352, 5508, 5712, 5932, 6000, 6092, 6232, 6300, 6370, 6472, 6612, 6712, 6780, 6852, 7032, 7116, 7212, 7290, 7372, 7572, 7640, 7700, 7764, 7872, 8052, 8132, 8292, 8350, 8420, 8512, 8772, 8952, 9020, 9100, 9192, 9552, 9692, 9732]
row_6088 = [212, 344, 428, 500, 644, 740, 780, 820, 912, 1000, 1120, 1180, 1252, 1360, 1520, 1570, 1620, 1688, 1840, 1910, 1980, 2156, 2480, 2540, 2804, 2924, 2988, 3168, 3220, 3300, 3380, 3760, 3820, 3980, 4020, 4092, 4208, 4768, 4940, 5340, 5452, 5510, 5572, 5676, 5880, 5976, 6176, 6292, 6340, 6436, 6504, 6652, 6712, 6992, 7104, 7308, 7460, 7512, 7812, 7870, 7920, 7972, 8064, 8184, 8250, 8312, 8452, 8532, 8570, 8612, 8784, 9152, 9232, 9432, 9480, 9532, 9660, 9768]
row_6087 = [60, 188, 240, 580, 628, 836, 1004, 1184, 1292, 1448, 1580, 1784, 2156, 2276, 2492, 2596, 2760, 2828, 3476, 3572, 3728, 3812, 4220, 4772, 4830, 4900, 4960, 4932, 5376, 5460, 5580, 5632, 5820, 5952, 6072, 6120, 6288, 6528, 6672, 6724, 6852, 6912, 7224, 7380, 7608, 7884, 8028, 8124, 8220, 8376, 8628, 8700, 8832, 8892, 9352, 9412, 9540, 9768, 9864]
row_6086 = [8, 344, 1004, 1676, 1904, 2096, 2240, 2748, 2788, 3008, 3050, 3092, 3440, 3632, 3932, 4380, 4440, 4988, 5184, 5592, 5748, 5904, 6072, 6240, 7044, 7260, 7404, 7548, 7612, 7812, 8004, 8232, 8484, 8724, 8868, 8928, 9120, 9660]
row_6085 = [164, 308, 536, 596, 800, 850, 900, 1964, 2312, 2370, 2428, 2696, 2840, 3368, 3536, 3680, 3760, 4988, 5244, 5352, 5808, 6132, 6492, 6540, 6592, 6696, 6768, 6876, 7212, 7344, 7464, 7560, 7872, 8256, 8544, 8760, 8868, 8912, 9324]
row_6084 = [20, 260, 620, 800, 944, 1220, 1340, 1520, 1700, 2000, 2060, 2120, 2228, 2312, 2384, 2492, 2708, 2908, 3052, 3136, 3220, 3260, 3320, 3860, 4100, 4150, 4200, 4380, 4440, 4500, 4550, 4600, 4760, 4840, 5140, 5640, 5844, 5952, 6072, 6172, 6720, 7192, 7252, 7420, 8016, 8052, 8184, 8256, 8436, 8796, 9024, 9252, 9384, 9624, 9852]
row_6083 = [108, 932, 1136, 1376, 1796, 1928, 2168, 2336, 2624, 2948, 3176, 3248, 3488, 3596, 4652, 5196, 5304, 5772, 7296, 7560, 7644, 7896, 8280, 8388, 9312, 9752, 9792]
row_6082 = [84, 100, 452, 656, 1560, 1980, 2084, 2348, 2828, 3992, 4268, 5004, 5100, 5148, 5332, 5388, 5556, 5940, 5980, 6012, 6732, 7920, 8616, 8856, 8928]
row_6081 = [108, 1052, 1484, 1964, 2072, 2288, 2852, 3260, 3308, 3464, 3704, 3896, 4320, 4380, 5904, 6096, 6996, 7680, 8244, 8364, 8868]
row_6080 = [512, 908, 2240, 3164, 3764, 4916, 6084, 7476, 7656]
row_6079 = [572, 1740, 1760, 3452, 6240, 7500]
row_6078 = [668, 2792, 5064, 5604, 7428, 7452, 8628, 9108]
row_6077 = [980, 1400, 2204, 3776, 4496, 5916, 7884]
row_6076 = [2972, 3692, 5028, 6936, 7128, 8016, 8940]
row_6075 = [1340, 7848]
row_6074 = [1460, 4496]
row_6073 = [1052, 7776, 9480]
row_6072 = [4616]

rows = {6135: row_6135, 6134: row_6134, 6133: row_6133, 6131: row_6131, 6130: row_6130,
        6129: row_6129, 6128: row_6128, 6127: row_6127, 6126: row_6126, 6125: row_6125,
        6124: row_6124, 6123: row_6123, 6122: row_6122, 6121: row_6121, 6120: row_6120,
        6119: row_6119, 6118: row_6118, 6117: row_6117, 6116: row_6116, 6115: row_6115,
        6114: row_6114, 6113: row_6113, 6112: row_6112, 6111: row_6111, 6110: row_6110,
        6109: row_6109, 6108: row_6108, 6107: row_6107, 6106: row_6106, 6105: row_6105,
        6104: row_6104, 6103: row_6103, 6102: row_6102, 6101: row_6101, 6100: row_6100,
        6099: row_6099, 6098: row_6098, 6097: row_6097, 6096: row_6096, 6095: row_6095,
        6094: row_6094, 6093: row_6093, 6092: row_6092, 6091: row_6091, 6090: row_6090,
        6089: row_6089, 6088: row_6088, 6087: row_6087, 6086: row_6086, 6085: row_6085,
        6084: row_6084, 6083: row_6083, 6082: row_6082, 6081: row_6081, 6080: row_6080,
        6079: row_6079, 6078: row_6078, 6077: row_6077, 6076: row_6076, 6075: row_6075,
        6074: row_6074, 6073: row_6073, 6072: row_6072}

xs = []
ys = []
for level, samples in rows.items():
    xs += samples
    ys += [level] * len(samples)

fig, ax = plt.subplots(figsize=(10, 10), dpi=100)
ax.plot(xs, ys, "k.", markersize=7, label="Samples\n$\\mu$ = 6103.08, $\\sigma$ = 8.6")
ax.set_title("Run 569, channel035, Pedestal")
ax.set_xlabel("Sample #")
ax.set_ylabel("ADC Counts")
ax.set_xlim(-486, 10340)
ax.set_ylim(6068.85, 6138.15)
ax.grid(True)
ax.legend(loc="upper right")
fig.subplots_adjust(left=0.081, right=0.985, top=0.965, bottom=0.059)
fig.savefig("out.png")
